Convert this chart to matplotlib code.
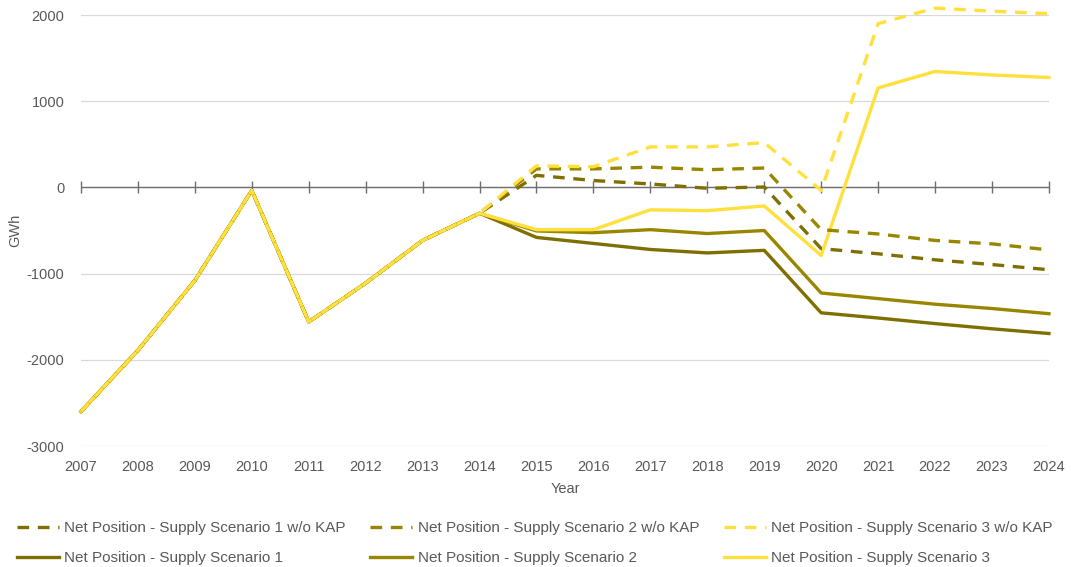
import numpy as np
import matplotlib
matplotlib.use("Agg")
import matplotlib.pyplot as plt

plt.rcParams['font.family'] = ['Liberation Sans', 'DejaVu Sans']
plt.rcParams['axes.unicode_minus'] = False

years = list(range(2007, 2025))

# shared history 2007-2014
history = [-2600, -1890, -1080, -35, -1560, -1110, -615, -300]

s1_wo_kap = history + [140, 80, 40, -10, 5, -710, -770, -840, -895, -955]
s2_wo_kap = history + [215, 215, 235, 205, 225, -490, -540, -615, -655, -725]
s3_wo_kap = history + [250, 240, 470, 470, 520, -35, 1900, 2080, 2045, 2015]
s1 = history + [-580, -650, -720, -760, -730, -1455, -1515, -1580, -1640, -1695]
s2 = history + [-505, -525, -490, -535, -500, -1225, -1290, -1355, -1405, -1465]
s3 = history + [-490, -490, -260, -270, -215, -790, 1155, 1345, 1305, 1275]

labels = [
    "Net Position - Supply Scenario 1 w/o KAP",
    "Net Position - Supply Scenario 1",
    "Net Position - Supply Scenario 2 w/o KAP",
    "Net Position - Supply Scenario 2",
    "Net Position - Supply Scenario 3 w/o KAP",
    "Net Position - Supply Scenario 3",
]

c1 = "#7F6F00"
c2 = "#998600"
c3 = "#FFE03D"
text_col = "#595959"

fig = plt.figure(figsize=(10.71, 5.67), dpi=100)
ax = fig.add_axes([0.0756, 0.2134, 0.9038, 0.7601])

lw = 2.4
dash = (3.5, 2.6)
series = [
    (s1_wo_kap, c1, True),
    (s1, c1, False),
    (s2_wo_kap, c2, True),
    (s2, c2, False),
    (s3_wo_kap, c3, True),
    (s3, c3, False),
]
# draw solid first so dashed sit on top like the original
order = [1, 3, 5, 0, 2, 4]
lines = {}
for i in order:
    vals, col, dashed = series[i]
    if dashed:
        ln, = ax.plot(years, vals, color=col, lw=lw, dashes=dash, zorder=3,
                      clip_on=False)
    else:
        ln, = ax.plot(years, vals, color=col, lw=lw, zorder=3, clip_on=False)
    lines[i] = ln
handles = [lines[i] for i in range(6)]

ax.set_xlim(2007, 2024)
ax.set_ylim(-3000, 2000)
ax.set_yticks([-3000, -2000, -1000, 0, 1000, 2000])
ax.set_xticks(years)
ax.grid(axis='y', color='#D9D9D9', lw=0.9, zorder=0)
ax.grid(axis='x', visible=False)
for sp in ax.spines.values():
    sp.set_visible(False)

# zero line with year tick marks
ax.axhline(0, color='#6E6E6E', lw=1.0, zorder=2)
ax.plot(years, [0] * len(years), ls='none', marker='|', ms=8, mew=1.0,
        color='#6E6E6E', zorder=2, clip_on=False)

ax.tick_params(axis='both', length=0, labelsize=10.5, labelcolor=text_col)
ax.tick_params(axis='x', pad=10)
ax.tick_params(axis='y', pad=12)
ax.set_xlabel("Year", fontsize=10.5, color=text_col, labelpad=6)
ax.set_ylabel("GWh", fontsize=10.5, color=text_col, labelpad=3)

fig.legend(handles, labels, ncol=3, loc='lower left',
           bbox_to_anchor=(0.006, -0.016), frameon=False, fontsize=11,
           handlelength=2.75, handletextpad=0.35, columnspacing=1.6,
           labelcolor=text_col, labelspacing=1.05, borderpad=0.2)

fig.savefig("out.png", dpi=100)
